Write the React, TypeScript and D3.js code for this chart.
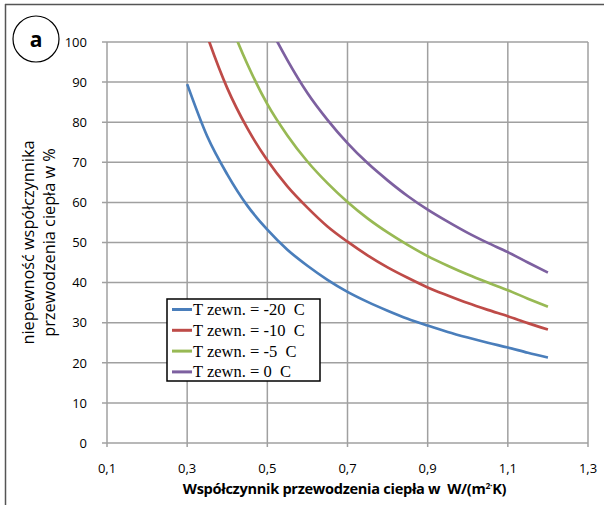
import { useEffect, useRef } from "react";
import * as d3 from "d3";

const xValues = [0.3, 0.35, 0.4, 0.45, 0.5, 0.55, 0.6, 0.65, 0.7, 0.75, 0.8, 0.85, 0.9, 0.95, 1.0, 1.05, 1.1, 1.15, 1.2];
const tMinus20 = [89.5, 76.5, 67, 59.2, 53.2, 48.2, 44.2, 40.7, 37.7, 35.2, 33, 31, 29.3, 27.7, 26.3, 25, 23.8, 22.5, 21.3];
const tMinus10 = [117, 101.5, 88.5, 78.5, 70.5, 64, 58.7, 54, 50.2, 46.8, 43.8, 41.2, 38.8, 36.8, 34.9, 33.2, 31.6, 29.9, 28.3];
const tMinus5 = [140, 120, 106.5, 94.5, 84.5, 76.7, 70.2, 64.8, 60.1, 56, 52.5, 49.4, 46.6, 44.2, 42, 40, 38.1, 36, 34];
const tZero = [175, 150, 131, 117, 105, 95.5, 87.3, 80.6, 74.8, 69.8, 65.5, 61.6, 58.2, 55.2, 52.4, 49.9, 47.6, 45, 42.5];

const seriesNames = ["T zewn. = -20\u00a0\u00a0C", "T zewn. = -10\u00a0\u00a0C", "T zewn. = -5\u00a0\u00a0C", "T zewn. = 0\u00a0\u00a0C"];
const seriesColors = ["#4a7ebb", "#be4b48", "#98b954", "#7d60a0"];
const xTicks = [0.1, 0.3, 0.5, 0.7, 0.9, 1.1, 1.3];
const yTicks = [0, 10, 20, 30, 40, 50, 60, 70, 80, 90, 100];

function App() {
  const ref = useRef<HTMLDivElement>(null);

  useEffect(() => {
    const width = 604;
    const height = 505;
    const margin = { top: 42, right: 16, bottom: 62, left: 107 };
    const font = "'Open Sans', sans-serif";

    d3.select(ref.current).selectAll("*").remove();

    const svg = d3
      .select(ref.current)
      .append("svg")
      .attr("width", width)
      .attr("height", height)
      .style("position", "absolute")
      .style("left", "0px")
      .style("top", "0px")
      .style("background", "#fff");

    // outer frame (only top and left edges are visible)
    svg.append("line").attr("x1", 5).attr("x2", width).attr("y1", 4.5).attr("y2", 4.5)
      .attr("stroke", "#555").attr("stroke-width", 1.5);
    svg.append("line").attr("x1", 5.5).attr("x2", 5.5).attr("y1", 4).attr("y2", height)
      .attr("stroke", "#555").attr("stroke-width", 1.5);

    const x = d3.scaleLinear().domain([0.1, 1.3]).range([margin.left, width - margin.right]);
    const y = d3.scaleLinear().domain([0, 100]).range([height - margin.bottom, margin.top]);

    const grid = "#a0a0a0";

    // gridlines
    svg.append("g").selectAll("line").data(yTicks).join("line")
      .attr("x1", margin.left - 5).attr("x2", x(1.3))
      .attr("y1", (d) => y(d)).attr("y2", (d) => y(d))
      .attr("stroke", grid).attr("stroke-width", 1.5);
    svg.append("g").selectAll("line").data(xTicks).join("line")
      .attr("x1", (d) => x(d)).attr("x2", (d) => x(d))
      .attr("y1", y(100)).attr("y2", y(0) + 4)
      .attr("stroke", grid).attr("stroke-width", 1.5);

    // tick labels
    svg.append("g").selectAll("text").data(yTicks).join("text")
      .attr("x", margin.left - 20).attr("y", (d) => y(d) + 4.7)
      .attr("text-anchor", "end").attr("font-family", font).attr("font-size", 13)
      .attr("fill", "#000").text((d) => d);
    svg.append("g").selectAll("text").data(xTicks).join("text")
      .attr("x", (d) => x(d)).attr("y", y(0) + 30)
      .attr("text-anchor", "middle").attr("font-family", font).attr("font-size", 13)
      .attr("fill", "#000").text((d) => d3.format(".1f")(d).replace(".", ","));

    // lines, clipped to the plot area
    svg.append("clipPath").attr("id", "plot-clip").append("rect")
      .attr("x", margin.left).attr("y", margin.top)
      .attr("width", width - margin.right - margin.left)
      .attr("height", height - margin.bottom - margin.top);

    const allSeries = [tMinus20, tMinus10, tMinus5, tZero];
    const line = d3.line<number>()
      .x((_, i) => x(xValues[i]))
      .y((d) => y(d))
      .curve(d3.curveMonotoneX);

    const lines = svg.append("g").attr("clip-path", "url(#plot-clip)");
    allSeries.forEach((s, i) => {
      lines.append("path").datum(s)
        .attr("fill", "none").attr("stroke", seriesColors[i])
        .attr("stroke-width", 2.7).attr("d", line);
    });

    // axis titles
    const xt = svg.append("text")
      .attr("x", (margin.left + width - margin.right) / 2 - 3).attr("y", 494)
      .attr("text-anchor", "middle").attr("font-family", font).attr("font-weight", "bold")
      .attr("font-size", 14.6).attr("letter-spacing", -0.3).attr("fill", "#000");
    xt.append("tspan").text("Współczynnik przewodzenia ciepła w\u00a0\u00a0W/(m");
    xt.append("tspan").attr("font-size", 8.5).attr("dy", -5).text("2");
    xt.append("tspan").attr("font-size", 8.5).attr("dy", 0).text("·");
    xt.append("tspan").attr("dy", 5).text("K)");

    const yt = svg.append("text")
      .attr("transform", `translate(0,${(margin.top + height - margin.bottom) / 2}) rotate(-90)`)
      .attr("text-anchor", "middle").attr("font-family", font)
      .attr("font-size", 16.3).attr("fill", "#000");
    yt.append("tspan").attr("x", 0).attr("y", 34).text("niepewność współczynnika");
    yt.append("tspan").attr("x", 0).attr("y", 55).text("przewodzenia ciepła w %");

    // legend
    const lg = svg.append("g");
    lg.append("rect").attr("x", 167).attr("y", 299).attr("width", 153).attr("height", 82)
      .attr("fill", "#fff").attr("stroke", "#000").attr("stroke-width", 1.5);
    seriesNames.forEach((name, i) => {
      const cy = 309.5 + i * 20.8;
      lg.append("line").attr("x1", 172).attr("x2", 192).attr("y1", cy).attr("y2", cy)
        .attr("stroke", seriesColors[i]).attr("stroke-width", 3);
      lg.append("text").attr("x", 193).attr("y", cy + 5.5)
        .attr("font-family", "'Liberation Serif', serif").attr("font-size", 16.5)
        .attr("fill", "#000").text(name);
    });

    // panel label
    svg.append("circle").attr("cx", 36).attr("cy", 39).attr("r", 23)
      .attr("fill", "#fff").attr("stroke", "#000").attr("stroke-width", 1.2);
    svg.append("text").attr("x", 36).attr("y", 46.5).attr("text-anchor", "middle")
      .attr("font-family", font).attr("font-weight", "bold").attr("font-size", 21)
      .attr("fill", "#000").text("a");
  }, []);

  return <div ref={ref}></div>;
}

export default App;
